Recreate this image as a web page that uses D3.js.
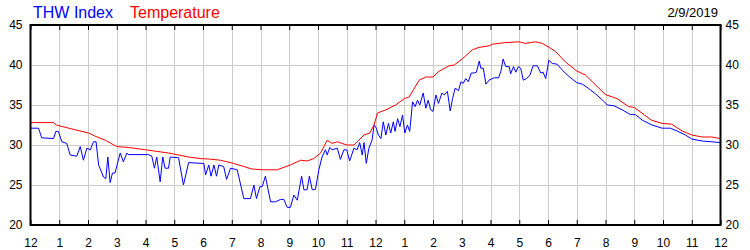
<!DOCTYPE html>
<html>
<head>
<meta charset="utf-8">
<script src="https://cdn.jsdelivr.net/npm/d3@7"></script>
<style>
	body { margin: 0; background: #fff; }
	svg { display: block; font-family: Arial, "Liberation Sans", sans-serif; }
</style>
</head>
<body>
<svg width="750" height="250"></svg>
<script>
// hours since midnight
var tempHours = [0, 0.8, 0.9, 1.55, 2.02, 2.25, 2.6, 3.0, 3.4, 4.0, 4.8, 5.5, 5.9, 6.2, 6.6, 7.06, 7.7, 8.1, 8.58, 9.04, 9.4, 9.62, 9.85, 10.09, 10.32, 10.49, 10.67, 11.0, 11.25, 11.6, 11.8, 11.95, 12.07, 12.36, 12.7, 13.0, 13.17, 13.52, 13.75, 14.0, 14.2, 14.56, 14.74, 15.03, 15.37, 15.6, 15.95, 16.07, 16.5, 17.0, 17.2, 17.57, 17.8, 18.04, 18.26, 18.6, 19.0, 19.3, 20.0, 20.4, 20.8, 21.0, 21.6, 21.97, 22.3, 22.67, 23.0, 23.36, 23.7, 24.0];
var tempValues = [32.8, 32.8, 32.5, 31.9, 31.5, 31.1, 30.6, 29.8, 29.7, 29.4, 29.0, 28.5, 28.3, 28.25, 28.1, 27.7, 27.0, 26.9, 26.9, 27.5, 28.1, 28.0, 28.3, 29.0, 30.6, 30.2, 30.4, 30.0, 30.0, 31.25, 31.5, 32.5, 34.0, 34.4, 35.0, 35.8, 36.0, 38.1, 38.5, 38.5, 39.2, 39.9, 40.0, 40.8, 41.9, 42.2, 42.4, 42.6, 42.8, 42.9, 42.7, 42.9, 42.7, 42.2, 41.7, 40.4, 39.25, 38.75, 36.3, 35.8, 34.8, 34.7, 33.1, 32.7, 32.6, 31.75, 31.25, 31.0, 31.0, 30.8];

var thwHours = [0, 0.28, 0.39, 0.8, 0.88, 0.97, 1.09, 1.26, 1.38, 1.61, 1.73, 1.84, 1.96, 2.08, 2.19, 2.28, 2.37, 2.54, 2.62, 2.69, 2.77, 2.85, 2.94, 3.12, 3.23, 3.35, 3.4, 4.1, 4.22, 4.31, 4.39, 4.51, 4.6, 4.68, 4.8, 4.86, 5.15, 5.32, 5.5, 5.96, 6.03, 6.09, 6.2, 6.28, 6.38, 6.47, 6.55, 6.72, 6.82, 6.96, 7.19, 7.42, 7.65, 7.77, 7.86, 7.98, 8.06, 8.17, 8.35, 8.52, 8.7, 8.81, 8.93, 9.04, 9.16, 9.28, 9.43, 9.51, 9.62, 9.7, 9.8, 9.91, 10.03, 10.14, 10.26, 10.32, 10.41, 10.49, 10.67, 10.78, 10.9, 11.0, 11.1, 11.25, 11.36, 11.45, 11.54, 11.6, 11.68, 11.77, 11.88, 11.95, 12.03, 12.1, 12.19, 12.27, 12.36, 12.45, 12.53, 12.62, 12.68, 12.77, 12.85, 12.94, 13.02, 13.11, 13.19, 13.29, 13.38, 13.46, 13.54, 13.66, 13.75, 13.83, 13.92, 14.0, 14.1, 14.19, 14.31, 14.39, 14.5, 14.6, 14.68, 14.77, 14.89, 14.97, 15.05, 15.14, 15.23, 15.33, 15.43, 15.51, 15.61, 15.66, 15.75, 15.84, 15.95, 16.13, 16.28, 16.36, 16.44, 16.53, 16.65, 16.7, 16.8, 16.88, 16.97, 17.05, 17.14, 17.25, 17.37, 17.48, 17.63, 17.75, 17.83, 17.92, 18.03, 18.15, 18.32, 18.49, 18.67, 18.84, 19.0, 19.2, 19.4, 19.65, 19.9, 20.06, 20.3, 20.58, 20.87, 21.04, 21.28, 21.62, 21.97, 22.26, 22.49, 22.78, 23.0, 23.36, 23.7, 24.0];
var thwValues = [32.1, 32.1, 30.9, 30.8, 31.7, 31.7, 30.4, 30.2, 28.75, 28.6, 29.8, 28.1, 29.6, 29.4, 30.4, 30.4, 27.5, 26.0, 25.8, 28.5, 25.3, 26.5, 26.5, 29.0, 27.9, 29.0, 28.8, 28.8, 28.6, 27.1, 28.5, 25.4, 28.5, 27.1, 27.1, 28.5, 28.4, 25.0, 27.8, 27.7, 27.7, 26.25, 27.5, 26.1, 27.5, 26.1, 27.5, 27.3, 25.7, 27.1, 26.9, 23.3, 23.3, 25.0, 23.3, 24.8, 24.8, 26.1, 22.9, 22.9, 23.2, 23.2, 22.2, 22.2, 23.75, 23.1, 26.1, 24.4, 24.4, 26.1, 24.4, 24.45, 26.9, 28.5, 29.4, 28.75, 29.7, 29.4, 29.6, 28.2, 29.4, 29.4, 28.0, 29.6, 29.4, 30.3, 28.75, 30.3, 27.7, 29.6, 30.6, 32.5, 32.1, 31.25, 30.8, 32.9, 31.25, 32.7, 31.5, 32.9, 31.7, 33.3, 32.3, 33.75, 31.5, 32.5, 31.7, 35.4, 34.8, 35.6, 35.0, 36.5, 34.6, 35.6, 34.4, 34.2, 36.25, 35.2, 36.5, 36.25, 36.7, 34.25, 35.8, 37.1, 36.8, 37.9, 37.7, 38.3, 37.9, 39.0, 39.0, 39.1, 40.5, 39.6, 39.6, 37.6, 38.1, 38.4, 38.4, 39.2, 40.75, 39.8, 39.8, 38.9, 39.8, 39.1, 39.8, 39.6, 38.1, 38.3, 38.7, 39.9, 39.9, 39.0, 39.1, 38.3, 40.6, 40.2, 40.1, 39.4, 38.75, 38.25, 37.8, 37.6, 37.1, 36.4, 35.6, 35.0, 34.9, 34.4, 33.8, 33.8, 33.1, 32.5, 32.1, 32.1, 31.75, 31.25, 30.75, 30.5, 30.4, 30.3];

var hourTicks = d3.range(0, 25);
var hourLabels = ["12", "1", "2", "3", "4", "5", "6", "7", "8", "9", "10", "11", "12", "1", "2", "3", "4", "5", "6", "7", "8", "9", "10", "11", "12"];
var yTicks = [20, 25, 30, 35, 40, 45];
var dateLabel = "2/9/2019";

function drawChart(){

	var svg = d3.select('svg');
	var left = 30.5, right = 720.5, top = 25, bottom = 225;

	var x = d3.scaleLinear().domain([0, 24]).range([left, right]);
	var y = d3.scaleLinear().domain([20, 45]).range([bottom, top]);

	// grid
	svg.append('g')
		.selectAll('line')
		.data(hourTicks.slice(1, -1))
		.enter()
		.append('line')
			.attr('x1', function(d){ return Math.round(x(d)) + 0.5 })
			.attr('x2', function(d){ return Math.round(x(d)) + 0.5 })
			.attr('y1', top)
			.attr('y2', bottom)
			.style('stroke', '#cccccc');

	svg.append('g')
		.selectAll('line')
		.data(yTicks.slice(1, -1))
		.enter()
		.append('line')
			.attr('x1', left)
			.attr('x2', right)
			.attr('y1', function(d){ return Math.round(y(d)) + 0.5 })
			.attr('y2', function(d){ return Math.round(y(d)) + 0.5 })
			.style('stroke', '#cccccc');

	// hour axes, ticks point inward
	var xBottom = d3.axisBottom(x)
		.tickValues(hourTicks)
		.tickSize(-5)
		.tickPadding(13)
		.tickFormat(function(d, i){ return hourLabels[i] });

	var gb = svg.append('g')
		.attr('transform', 'translate(0,' + bottom + ')')
		.call(xBottom);

	var gt = svg.append('g')
		.attr('transform', 'translate(0,' + top + ')')
		.call(d3.axisTop(x).tickValues(hourTicks).tickSize(-5).tickFormat(''));

	[gb, gt].forEach(function(g){
		g.select('.domain').remove();
		g.selectAll('.tick line').style('stroke', '#000');
	});

	gb.selectAll('text')
		.style('font-size', '12px')
		.style('font-family', 'Arial, "Liberation Sans", sans-serif')
		.style('fill', '#000');

	// value axes
	var gl = svg.append('g')
		.attr('transform', 'translate(' + left + ',0)')
		.call(d3.axisLeft(y).tickValues(yTicks).tickSize(0).tickPadding(8));
	var gr = svg.append('g')
		.attr('transform', 'translate(' + right + ',0)')
		.call(d3.axisRight(y).tickValues(yTicks).tickSize(0).tickPadding(5));

	[gl, gr].forEach(function(g){
		g.select('.domain').remove();
		g.selectAll('text')
			.style('font-size', '12px')
			.style('font-family', 'Arial, "Liberation Sans", sans-serif')
			.style('fill', '#000');
	});

	// series
	var line = d3.line()
		.x(function(d){ return x(d[0]) })
		.y(function(d){ return y(d[1]) });

	svg.append('path')
		.datum(d3.zip(thwHours, thwValues))
		.attr('d', line)
		.style('fill', 'none')
		.style('stroke', '#0000ff')
		.style('stroke-width', 1);

	svg.append('path')
		.datum(d3.zip(tempHours, tempValues))
		.attr('d', line)
		.style('fill', 'none')
		.style('stroke', '#ff0000')
		.style('stroke-width', 1);

	// frame
	svg.append('rect')
		.attr('x', left)
		.attr('y', top)
		.attr('width', right - left)
		.attr('height', bottom - top)
		.style('fill', 'none')
		.style('stroke', '#000')
		.style('stroke-width', 2);

	// legend and date
	svg.append('text')
		.attr('x', 33).attr('y', 18)
		.style('font-size', '16px')
		.style('fill', '#0000ff')
		.text('THW Index');

	svg.append('text')
		.attr('x', 130).attr('y', 18)
		.style('font-size', '16px')
		.style('fill', '#ff0000')
		.text('Temperature');

	svg.append('text')
		.attr('x', 718).attr('y', 17)
		.attr('text-anchor', 'end')
		.style('font-size', '13px')
		.style('fill', '#000')
		.text(dateLabel);
};

window.onload = function(){
	drawChart();
};
</script>
</body>
</html>
